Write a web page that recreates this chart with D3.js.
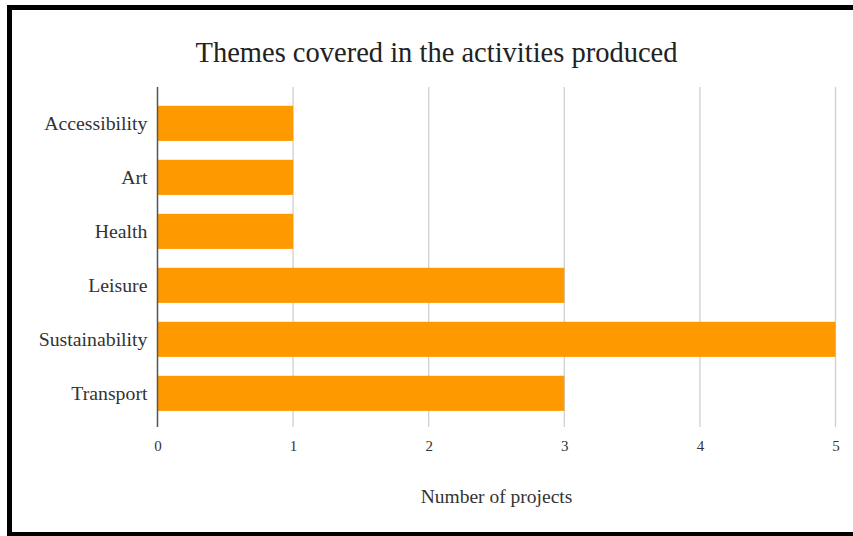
<!DOCTYPE html>
<html>
<head>
<meta charset="utf-8">
<script src="https://cdn.jsdelivr.net/npm/d3@7/dist/d3.min.js"></script>
<style>
  html, body { margin: 0; padding: 0; background: #fff; }
  svg { display: block; }
</style>
</head>
<body>
<svg id="chart" width="853" height="536"></svg>
<script>
const categories = ["Accessibility", "Art", "Health", "Leisure", "Sustainability", "Transport"];
const values = [1, 1, 1, 3, 5, 3];
const xTicks = [0, 1, 2, 3, 4, 5];
const titleText = "Themes covered in the activities produced";
const xAxisTitle = "Number of projects";

const svg = d3.select("#chart");
const W = 853, H = 536;
const serif = "'Liberation Serif', 'DejaVu Serif', serif";

svg.append("rect").attr("x", 0).attr("y", 0).attr("width", W).attr("height", H).attr("fill", "#fff");

// frame
svg.append("rect").attr("x", 7).attr("y", 5).attr("width", 5).attr("height", 531).attr("fill", "#000");
svg.append("rect").attr("x", 7).attr("y", 5).attr("width", 846).attr("height", 5).attr("fill", "#000");
svg.append("rect").attr("x", 7).attr("y", 532).attr("width", 846).attr("height", 4).attr("fill", "#000");

const plot = { left: 157.5, right: 835.5, top: 87, bottom: 427 };

const x = d3.scaleLinear().domain([0, 5]).range([plot.left, plot.right]);
const y = d3.scaleBand().domain(categories).range([88, 428.7]).paddingInner(0.35).paddingOuter(0.33);

// gridlines
svg.append("g").selectAll("line").data(xTicks.filter(d => d !== 0)).join("line")
  .attr("x1", d => x(d)).attr("x2", d => x(d))
  .attr("y1", plot.top).attr("y2", plot.bottom)
  .attr("stroke", "#d0d0d0").attr("stroke-width", 1.3);

// bars
svg.append("g").selectAll("rect").data(categories).join("rect")
  .attr("x", x(0))
  .attr("y", d => y(d))
  .attr("width", (d, i) => x(values[i]) - x(0))
  .attr("height", y.bandwidth())
  .attr("fill", "#ff9900");

// zero axis line
svg.append("line")
  .attr("x1", x(0)).attr("x2", x(0))
  .attr("y1", plot.top).attr("y2", plot.bottom)
  .attr("stroke", "#555").attr("stroke-width", 1.5);

// x tick labels via axis
const xAxis = d3.axisBottom(x).tickValues(xTicks).tickFormat(d3.format("d")).tickSize(0).tickPadding(0);
const gx = svg.append("g").attr("transform", `translate(0, ${plot.bottom + 13})`).call(xAxis);
gx.select(".domain").remove();
gx.selectAll("text").attr("font-family", serif).attr("font-size", 15).attr("fill", "#333");

// y labels via axis
const yAxis = d3.axisLeft(y).tickSize(0).tickPadding(10);
const gy = svg.append("g").attr("transform", `translate(${plot.left}, 0)`).call(yAxis);
gy.select(".domain").remove();
gy.selectAll("text").attr("font-family", serif).attr("font-size", 19.8).attr("fill", "#333");

// title
svg.append("text").attr("x", 436.5).attr("y", 62).attr("text-anchor", "middle")
  .attr("font-family", serif).attr("font-size", 28.5).attr("fill", "#222").text(titleText);

// x axis title
svg.append("text").attr("x", (plot.left + plot.right) / 2).attr("y", 503).attr("text-anchor", "middle")
  .attr("font-family", serif).attr("font-size", 19.5).attr("fill", "#333").text(xAxisTitle);
</script>
</body>
</html>
